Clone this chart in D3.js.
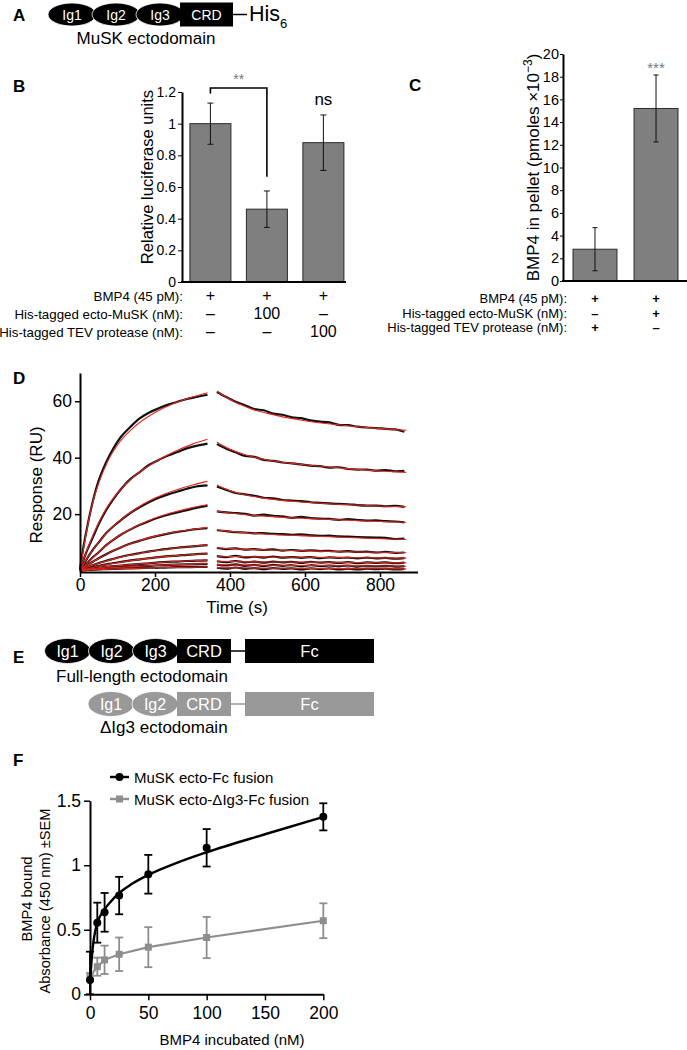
<!DOCTYPE html>
<html><head><meta charset="utf-8">
<script src="https://cdn.jsdelivr.net/npm/d3@7"></script>
<style>
body{margin:0;background:#fff;}
svg{display:block;}
</style></head><body>
<svg id="fig" width="687" height="1050"></svg>
<script>
// ================= DATA =================
// Panel A
const aDomains = ["Ig1", "Ig2", "Ig3"];
const aCRD = "CRD";
const aTag = "His";
const aTagSub = "6";
const aName = "MuSK ectodomain";

// Panel B
const bCategories = ["BMP4", "BMP4 + ecto-MuSK", "BMP4 + TEV"];
const bValues = [1.0, 0.46, 0.88];
const bErrors = [0.13, 0.115, 0.175];
const bTicks = [0, 0.2, 0.4, 0.6, 0.8, 1, 1.2];
const bRowLabels = ["BMP4 (45 pM):", "His-tagged ecto-MuSK (nM):", "His-tagged TEV protease (nM):"];
const bRowValues = [["+", "+", "+"], ["–", "100", "–"], ["–", "–", "100"]];
const bYLabel = "Relative luciferase units";
const bSigPair = [0, 1];
const bSigText = "**";
const bNsText = "ns";

// Panel C
const cCategories = ["TEV", "ecto-MuSK"];
const cValues = [2.8, 15.2];
const cErrors = [1.9, 2.95];
const cTicks = [0, 2, 4, 6, 8, 10, 12, 14, 16, 18, 20];
const cRowLabels = ["BMP4 (45 pM):", "His-tagged ecto-MuSK (nM):", "His-tagged TEV protease (nM):"];
const cRowValues = [["+", "+"], ["–", "+"], ["+", "–"]];
const cSigText = "***";

// Panel D (SPR sensorgrams: black = data, red = fit)
const dXTicks = [0, 200, 400, 600, 800];
const dYTicks = [20, 40, 60];
const dDataAssocT = [0, 10, 20, 35, 50, 70, 90, 110, 135, 160, 185, 210, 235, 260, 285, 310, 340];
const dDataDissocT = [365, 390, 415, 440, 465, 490, 515, 540, 565, 590, 615, 640, 665, 690, 715, 740, 765, 790, 815, 840, 865];
const dFitAssocT = [0, 15, 30, 50, 75, 100, 150, 200, 250, 300, 340];
const dFitDissocT = [365, 400, 450, 500, 600, 700, 800, 870];

const dDataAssoc = [
  [0.5, 9, 16, 25, 32, 38.5, 43.5, 47.5, 51, 54, 56, 57.5, 58.8, 59.8, 60.8, 61.5, 62.3],
  [0.3, 4, 7.5, 12, 16.5, 21.5, 25.5, 29, 32.5, 35, 37.5, 39.2, 40.8, 42, 43.3, 44.2, 45],
  [0.2, 2.2, 4.5, 7.5, 10, 13.3, 15.8, 18, 20.5, 22.5, 24.3, 25.8, 27, 28, 29, 29.8, 30.2],
  [0.3, 1.5, 2.8, 4.8, 6.5, 9, 11, 12.8, 14.6, 16.2, 17.6, 18.8, 19.8, 20.6, 21.4, 22.2, 23],
  [0.2, 1, 2, 3.2, 4.4, 5.8, 7.1, 8.3, 9.6, 10.6, 11.6, 12.4, 13.1, 13.7, 14.2, 14.7, 15],
  [0.2, 0.7, 1.2, 2, 2.7, 3.5, 4.2, 4.9, 5.6, 6.2, 6.8, 7.3, 7.7, 8.1, 8.4, 8.7, 9],
  [0.1, 0.4, 0.8, 1.3, 1.7, 2.2, 2.7, 3.1, 3.6, 4, 4.4, 4.8, 5.1, 5.3, 5.6, 5.8, 6],
  [0.1, 0.3, 0.5, 0.8, 1, 1.3, 1.6, 1.8, 2.1, 2.4, 2.6, 2.9, 3.1, 3.2, 3.4, 3.5, 3.6],
  [0, 0.2, 0.3, 0.5, 0.7, 0.9, 1, 1.2, 1.4, 1.6, 1.7, 1.9, 2, 2.1, 2.2, 2.3, 2.4],
  [0, 0.1, 0.2, 0.3, 0.4, 0.5, 0.6, 0.7, 0.8, 0.9, 1, 1, 1.1, 1.2, 1.2, 1.3, 1.3]
];
const dDataDissoc = [
  [63.3, 61.5, 59.8, 58.6, 57.2, 56.8, 55.6, 55.2, 54.3, 54.0, 53.2, 52.8, 52.5, 51.6, 51.5, 51.0, 50.7, 50.5, 50.2, 50.0, 49.2],
  [44.8, 43.2, 41.9, 40.6, 40.3, 39.2, 38.9, 38.3, 38.0, 37.6, 37.2, 37.0, 36.5, 36.6, 36.0, 35.8, 35.8, 35.4, 35.6, 35.2, 35.3],
  [29.8, 28.6, 27.5, 27.0, 26.5, 25.8, 25.6, 25.0, 24.8, 24.6, 24.2, 24.0, 23.8, 23.6, 23.5, 23.2, 23.0, 23.0, 22.8, 22.9, 22.6],
  [21.0, 20.6, 20.4, 20.1, 19.5, 19.8, 19.4, 19.2, 18.7, 19.0, 18.6, 18.4, 18.3, 18.0, 18.2, 17.9, 17.7, 17.8, 17.5, 17.4, 17.1],
  [14.3, 14.0, 13.6, 13.5, 13.2, 13.3, 13.0, 12.9, 12.7, 12.8, 12.5, 12.3, 12.4, 12.1, 12.0, 11.9, 11.8, 11.7, 11.6, 11.2, 11.3],
  [8.0, 7.6, 7.9, 7.4, 7.6, 7.3, 7.5, 7.1, 7.3, 7.0, 7.2, 6.9, 7.0, 6.7, 6.9, 6.6, 6.7, 6.4, 6.6, 6.3, 6.4],
  [5.1, 4.8, 5.2, 4.7, 4.9, 4.6, 5.0, 4.6, 4.8, 4.5, 4.8, 4.4, 4.7, 4.5, 4.6, 4.3, 4.6, 4.3, 4.5, 4.2, 4.4],
  [3.3, 3.0, 3.4, 2.9, 3.2, 2.8, 3.2, 2.9, 3.1, 2.7, 3.1, 2.8, 3.0, 2.7, 3.0, 2.6, 2.9, 2.7, 2.9, 2.6, 2.8],
  [2.1, 1.8, 2.2, 1.7, 2.0, 1.6, 2.0, 1.7, 1.9, 1.5, 1.9, 1.6, 1.8, 1.5, 1.8, 1.4, 1.7, 1.5, 1.7, 1.4, 1.6],
  [1.0, 0.7, 1.1, 0.6, 0.9, 0.5, 0.9, 0.6, 0.8, 0.4, 0.8, 0.5, 0.8, 0.4, 0.7, 0.4, 0.7, 0.5, 0.7, 0.4, 0.6]
];
const dFitAssoc = [
  [0, 12, 22, 31, 39, 44.5, 51.5, 56, 59.2, 61.5, 63],
  [0, 6, 11, 17, 23, 27.5, 34, 38.5, 42, 44.8, 46.5],
  [0, 3.5, 6.5, 10, 14, 17, 22, 25.7, 28.3, 30.3, 31.6],
  [0, 2, 4, 6.5, 9.5, 12, 15.7, 18.6, 20.7, 22.3, 23.3],
  [0, 1.5, 2.8, 4.3, 6.1, 7.7, 10.2, 12.2, 13.6, 14.6, 15.3],
  [0, 0.9, 1.7, 2.6, 3.6, 4.5, 5.9, 7, 7.9, 8.6, 9.1],
  [0, 0.5, 1, 1.6, 2.2, 2.8, 3.8, 4.6, 5.2, 5.7, 6],
  [0, 0.3, 0.6, 1, 1.4, 1.7, 2.3, 2.8, 3.2, 3.5, 3.7],
  [0, 0.2, 0.4, 0.6, 0.9, 1.1, 1.5, 1.8, 2.1, 2.3, 2.5],
  [0, 0.1, 0.2, 0.3, 0.5, 0.6, 0.8, 1, 1.1, 1.2, 1.3]
];
const dFitDissoc = [
  [63.6, 60.6, 57.6, 55.7, 53.1, 51.5, 50.3, 49.7],
  [45.5, 43, 40.7, 39.2, 37.5, 36.3, 35.3, 34.8],
  [30.3, 28.3, 26.6, 25.5, 24.2, 23.4, 22.9, 22.6],
  [21, 20.4, 19.7, 19.2, 18.5, 17.9, 17.4, 17.1],
  [14.4, 13.9, 13.3, 12.9, 12.3, 11.8, 11.3, 11],
  [8, 7.8, 7.5, 7.3, 7, 6.7, 6.5, 6.3],
  [5.1, 5, 4.9, 4.8, 4.7, 4.6, 4.5, 4.4],
  [3.3, 3.2, 3.1, 3.05, 3, 2.9, 2.8, 2.75],
  [2.1, 2, 1.95, 1.9, 1.8, 1.7, 1.6, 1.55],
  [1, 0.95, 0.9, 0.85, 0.8, 0.7, 0.65, 0.6]
];

// Panel E
const eFullDomains = ["Ig1", "Ig2", "Ig3"];
const eDelDomains = ["Ig1", "Ig2"];
const eCRD = "CRD";
const eFc = "Fc";
const eFullName = "Full-length ectodomain";
const eDelName = "ΔIg3 ectodomain";

// Panel F
const fConc = [0, 6.25, 12.5, 25, 50, 100, 200];
const fFullMean = [0.11, 0.555, 0.635, 0.765, 0.93, 1.135, 1.375];
const fFullSem = [0.22, 0.155, 0.15, 0.145, 0.15, 0.145, 0.105];
const fDelMean = [0.135, 0.214, 0.267, 0.31, 0.365, 0.44, 0.57];
const fDelSem = [0.03, 0.07, 0.11, 0.13, 0.155, 0.16, 0.135];
const fFullFitX = [0, 1, 2, 3, 4.5, 6.25, 9, 12.5, 18, 25, 35, 50, 75, 100, 150, 200];
const fFullFitY = [0.08, 0.22, 0.33, 0.41, 0.49, 0.555, 0.61, 0.66, 0.72, 0.785, 0.85, 0.925, 1.02, 1.1, 1.24, 1.375];
const fXTicks = [0, 50, 100, 150, 200];
const fYTicks = [0, 0.5, 1, 1.5];
const fSeriesNames = ["MuSK ecto-Fc fusion", "MuSK ecto-ΔIg3-Fc fusion"];

// ================= DRAWING =================
const FONT = '"Liberation Sans", Arial, Helvetica, sans-serif';
const svg = d3.select("#fig").attr("font-family", FONT);
const GREY = "#8e8e8e";
const BAR = "#7f7f7f";
const RED = "#e3241c";

function styleAxis(g, fs, dw, tw) {
  g.attr("font-family", FONT).attr("font-size", fs);
  g.select(".domain").attr("stroke", "#000").attr("stroke-width", dw);
  g.selectAll(".tick line").attr("stroke", "#000").attr("stroke-width", tw);
  g.selectAll(".tick text").attr("fill", "#000");
}
function label(t, x, y) {
  svg.append("text").attr("x", x).attr("y", y).attr("font-weight", "bold")
    .attr("font-size", 17).text(t);
}

// ---------- Panel A ----------
label("A", 13, 21);
{
  const g = svg.append("g");
  const cy = 14.5;
  aDomains.forEach((d, i) => {
    const cx = 72 + i * 44;
    g.append("ellipse").attr("cx", cx).attr("cy", cy).attr("rx", 24).attr("ry", 11.5)
      .attr("fill", "#000").attr("stroke", "#fff").attr("stroke-width", 0.8);
    g.append("text").attr("x", cx).attr("y", cy + 5).attr("text-anchor", "middle")
      .attr("fill", "#fff").attr("font-size", 14).text(d);
  });
  g.append("rect").attr("x", 180).attr("y", 2.5).attr("width", 53).attr("height", 24).attr("fill", "#000");
  g.append("text").attr("x", 206.5).attr("y", cy + 5).attr("text-anchor", "middle")
    .attr("fill", "#fff").attr("font-size", 14).text(aCRD);
  g.append("line").attr("x1", 233).attr("x2", 247).attr("y1", cy).attr("y2", cy)
    .attr("stroke", "#000").attr("stroke-width", 1.5);
  const t = g.append("text").attr("x", 249).attr("y", 21).attr("font-size", 21.5);
  t.append("tspan").text(aTag);
  t.append("tspan").attr("font-size", 13).attr("dy", 7).text(aTagSub);
  g.append("text").attr("x", 146).attr("y", 44).attr("text-anchor", "middle")
    .attr("font-size", 17).text(aName);
}

// ---------- Panel B ----------
label("B", 13, 92);
{
  const x = d3.scaleBand().domain(bCategories).range([182, 351.8]).paddingInner(0.274).paddingOuter(0.14);
  const y = d3.scaleLinear().domain([0, 1.2]).range([282, 92]);
  const g = svg.append("g");
  g.selectAll("rect.bar").data(bValues).join("rect").attr("class", "bar")
    .attr("x", (d, i) => x(bCategories[i])).attr("width", x.bandwidth())
    .attr("y", d => y(d)).attr("height", d => y(0) - y(d))
    .attr("fill", BAR).attr("stroke", "#2a2a2a").attr("stroke-width", 1);
  bValues.forEach((v, i) => {
    const cx = x(bCategories[i]) + x.bandwidth() / 2;
    const e = bErrors[i];
    g.append("line").attr("x1", cx).attr("x2", cx).attr("y1", y(v - e)).attr("y2", y(v + e)).attr("stroke", "#111").attr("stroke-width", 1);
    [v - e, v + e].forEach(b => g.append("line").attr("x1", cx - 3).attr("x2", cx + 3).attr("y1", y(b)).attr("y2", y(b)).attr("stroke", "#111").attr("stroke-width", 1));
  });
  const ya = g.append("g").attr("transform", "translate(182,0)")
    .call(d3.axisLeft(y).tickValues(bTicks).tickSize(4).tickSizeOuter(0).tickPadding(2).tickFormat(d3.format("~g")));
  styleAxis(ya, 14, 2, 1);
  g.append("line").attr("x1", 181).attr("x2", 346).attr("y1", 282).attr("y2", 282).attr("stroke", "#000").attr("stroke-width", 2);
  g.append("text").attr("transform", "translate(153,177) rotate(-90)").attr("text-anchor", "middle")
    .attr("font-size", 16.5).text(bYLabel);
  // significance bracket
  const c0 = x(bCategories[bSigPair[0]]) + x.bandwidth() / 2;
  const c1 = x(bCategories[bSigPair[1]]) + x.bandwidth() / 2;
  g.append("path").attr("d", `M${c0},${y(1.19)}V${y(1.225)}H${c1}V${y(0.665)}`)
    .attr("fill", "none").attr("stroke", "#000").attr("stroke-width", 1.6);
  g.append("text").attr("x", (c0 + c1) / 2).attr("y", 84).attr("text-anchor", "middle")
    .attr("font-size", 14).attr("fill", "#777").text(bSigText);
  g.append("text").attr("x", x(bCategories[2]) + x.bandwidth() / 2).attr("y", 105).attr("text-anchor", "middle")
    .attr("font-size", 17).text(bNsText);
  const rowY = [301, 319, 337];
  bRowLabels.forEach((l, r) => {
    g.append("text").attr("x", 183).attr("y", rowY[r]).attr("text-anchor", "end").attr("font-size", 13.3).text(l);
    bRowValues[r].forEach((v, i) => {
      g.append("text").attr("x", x(bCategories[i]) + x.bandwidth() / 2).attr("y", rowY[r])
        .attr("text-anchor", "middle").attr("font-size", 16).text(v);
    });
  });
}

// ---------- Panel C ----------
label("C", 409, 91);
{
  const x = d3.scaleBand().domain(cCategories).range([563, 688]).paddingInner(0.28).paddingOuter(0.164);
  const y = d3.scaleLinear().domain([0, 20]).range([281, 54]);
  const g = svg.append("g");
  g.selectAll("rect.bar").data(cValues).join("rect").attr("class", "bar")
    .attr("x", (d, i) => x(cCategories[i])).attr("width", x.bandwidth())
    .attr("y", d => y(d)).attr("height", d => y(0) - y(d))
    .attr("fill", BAR).attr("stroke", "#2a2a2a").attr("stroke-width", 1);
  cValues.forEach((v, i) => {
    const cx = x(cCategories[i]) + x.bandwidth() / 2;
    const e = cErrors[i];
    g.append("line").attr("x1", cx).attr("x2", cx).attr("y1", y(v - e)).attr("y2", y(v + e)).attr("stroke", "#111").attr("stroke-width", 1);
    [v - e, v + e].forEach(b => g.append("line").attr("x1", cx - 2.5).attr("x2", cx + 2.5).attr("y1", y(b)).attr("y2", y(b)).attr("stroke", "#111").attr("stroke-width", 1));
  });
  const ya = g.append("g").attr("transform", "translate(563,0)")
    .call(d3.axisLeft(y).tickValues(cTicks).tickSize(3).tickSizeOuter(0).tickPadding(1));
  styleAxis(ya, 14.5, 2, 1);
  g.append("line").attr("x1", 562).attr("x2", 687).attr("y1", 281).attr("y2", 281).attr("stroke", "#000").attr("stroke-width", 2);
  const t = g.append("text").attr("transform", "translate(539,167.5) rotate(-90)").attr("text-anchor", "middle").attr("font-size", 17);
  t.append("tspan").text("BMP4 in pellet (pmoles ×10");
  t.append("tspan").attr("font-size", 12).attr("dy", -7).text("−3");
  t.append("tspan").attr("dy", 7).text(")");
  g.append("text").attr("x", x(cCategories[1]) + x.bandwidth() / 2).attr("y", 73).attr("text-anchor", "middle")
    .attr("font-size", 15).attr("fill", "#777").text(cSigText);
  const rowY = [303, 317.5, 332];
  cRowLabels.forEach((l, r) => {
    g.append("text").attr("x", 567).attr("y", rowY[r]).attr("text-anchor", "end").attr("font-size", 13).text(l);
    cRowValues[r].forEach((v, i) => {
      g.append("text").attr("x", x(cCategories[i]) + x.bandwidth() / 2).attr("y", rowY[r])
        .attr("text-anchor", "middle").attr("font-size", 13).attr("font-weight", "bold").text(v);
    });
  });
}

// ---------- Panel D ----------
label("D", 13, 384);
{
  const x = d3.scaleLinear().domain([0, 900]).range([80, 417.5]);
  const y = d3.scaleLinear().domain([-0.5, 70]).range([572, 373]);
  const g = svg.append("g");
  const line = d3.line().x(d => x(d[0])).y(d => y(d[1])).curve(d3.curveCatmullRom);
  const fitLine = d3.line().x(d => x(d[0])).y(d => y(d[1])).curve(d3.curveMonotoneX);
  dDataAssoc.forEach((arr, i) => {
    g.append("path").attr("d", line(d3.zip(dDataAssocT, arr))).attr("fill", "none").attr("stroke", "#111").attr("stroke-width", 2.2);
    g.append("path").attr("d", line(d3.zip(dDataDissocT, dDataDissoc[i]))).attr("fill", "none").attr("stroke", "#111").attr("stroke-width", 2.2);
  });
  dFitAssoc.forEach((arr, i) => {
    g.append("path").attr("d", fitLine(d3.zip(dFitAssocT, arr))).attr("fill", "none").attr("stroke", RED).attr("stroke-width", 1.1);
    g.append("path").attr("d", fitLine(d3.zip(dFitDissocT, dFitDissoc[i]))).attr("fill", "none").attr("stroke", RED).attr("stroke-width", 1.1);
  });
  const ya = g.append("g").attr("transform", "translate(80,0)")
    .call(d3.axisLeft(y).tickValues(dYTicks).tickSize(5).tickSizeOuter(0).tickPadding(3));
  styleAxis(ya, 17.5, 2, 1.5);
  const xa = g.append("g").attr("transform", "translate(0,572)")
    .call(d3.axisBottom(x).tickValues(dXTicks).tickSize(5).tickSizeOuter(0).tickPadding(2));
  styleAxis(xa, 17.5, 2, 1.5);
  g.append("text").attr("transform", "translate(42,485) rotate(-90)").attr("text-anchor", "middle")
    .attr("font-size", 17).text("Response (RU)");
  g.append("text").attr("x", 237).attr("y", 613).attr("text-anchor", "middle")
    .attr("font-size", 17).text("Time (s)");
}

// ---------- Panel E ----------
label("E", 13, 663);
{
  const g = svg.append("g");
  function construct(domains, startCx, cy, color, name, nameX, nameY) {
    domains.forEach((d, i) => {
      const cx = startCx + i * 44;
      g.append("ellipse").attr("cx", cx).attr("cy", cy).attr("rx", 23).attr("ry", 12.5)
        .attr("fill", color).attr("stroke", "#fff").attr("stroke-width", 0.8);
      g.append("text").attr("x", cx).attr("y", cy + 6).attr("text-anchor", "middle")
        .attr("fill", "#fff").attr("font-size", 16).text(d);
    });
    g.append("rect").attr("x", 177).attr("y", cy - 12).attr("width", 54).attr("height", 24).attr("fill", color);
    g.append("text").attr("x", 204).attr("y", cy + 6).attr("text-anchor", "middle")
      .attr("fill", "#fff").attr("font-size", 16.5).text(eCRD);
    g.append("line").attr("x1", 231).attr("x2", 245).attr("y1", cy).attr("y2", cy)
      .attr("stroke", color).attr("stroke-width", 1.5);
    g.append("rect").attr("x", 245).attr("y", cy - 12).attr("width", 129).attr("height", 24).attr("fill", color);
    g.append("text").attr("x", 309.5).attr("y", cy + 6).attr("text-anchor", "middle")
      .attr("fill", "#fff").attr("font-size", 16.5).text(eFc);
    g.append("text").attr("x", nameX).attr("y", nameY).attr("font-size", 17).text(name);
  }
  construct(eFullDomains, 67.5, 651, "#000", eFullName, 56, 682);
  construct(eDelDomains, 111, 704, "#999", eDelName, 100, 733);
}

// ---------- Panel F ----------
label("F", 13, 766);
{
  const x = d3.scaleLinear().domain([0, 200]).range([90, 323.3]);
  const y = d3.scaleLinear().domain([0, 1.5]).range([994.3, 800.7]);
  const g = svg.append("g");
  // grey series
  g.append("path").attr("d", d3.line().x((d, i) => x(fConc[i])).y(d => y(d))(fDelMean))
    .attr("fill", "none").attr("stroke", GREY).attr("stroke-width", 2.2);
  fDelMean.forEach((m, i) => {
    const cx = x(fConc[i]), e = fDelSem[i];
    const lo = Math.max(0, m - e);
    g.append("line").attr("x1", cx).attr("x2", cx).attr("y1", y(lo)).attr("y2", y(m + e)).attr("stroke", GREY).attr("stroke-width", 1.8);
    [lo, m + e].forEach(b => g.append("line").attr("x1", cx - 4).attr("x2", cx + 4).attr("y1", y(b)).attr("y2", y(b)).attr("stroke", GREY).attr("stroke-width", 1.8));
    g.append("rect").attr("x", cx - 3.5).attr("y", y(m) - 3.5).attr("width", 7).attr("height", 7).attr("fill", GREY);
  });
  // black series
  g.append("path").attr("d", d3.line().x((d, i) => x(fFullFitX[i])).y(d => y(d)).curve(d3.curveMonotoneX)(fFullFitY))
    .attr("fill", "none").attr("stroke", "#000").attr("stroke-width", 2.4);
  fFullMean.forEach((m, i) => {
    const cx = x(fConc[i]), e = fFullSem[i];
    const lo = Math.max(0, m - e);
    g.append("line").attr("x1", cx).attr("x2", cx).attr("y1", y(lo)).attr("y2", y(m + e)).attr("stroke", "#000").attr("stroke-width", 1.8);
    [lo, m + e].forEach(b => g.append("line").attr("x1", cx - 4).attr("x2", cx + 4).attr("y1", y(b)).attr("y2", y(b)).attr("stroke", "#000").attr("stroke-width", 1.8));
    g.append("circle").attr("cx", cx).attr("cy", y(m)).attr("r", 4).attr("fill", "#000");
  });
  const ya = g.append("g").attr("transform", "translate(90,0)")
    .call(d3.axisLeft(y).tickValues(fYTicks).tickSize(6).tickSizeOuter(0).tickPadding(3).tickFormat(d3.format("~g")));
  styleAxis(ya, 17.5, 2, 1.5);
  const xa = g.append("g").attr("transform", "translate(0,994.3)")
    .call(d3.axisBottom(x).tickValues(fXTicks).tickSize(6).tickSizeOuter(0).tickPadding(6));
  styleAxis(xa, 17.5, 2, 1.5);
  g.append("text").attr("transform", "translate(32,899) rotate(-90)").attr("text-anchor", "middle")
    .attr("font-size", 14.7).text("BMP4 bound");
  g.append("text").attr("transform", "translate(50,901) rotate(-90)").attr("text-anchor", "middle")
    .attr("font-size", 14.7).text("Absorbance (450 nm) ±SEM");
  g.append("text").attr("x", 232).attr("y", 1045).attr("text-anchor", "middle")
    .attr("font-size", 15).text("BMP4 incubated (nM)");
  // legend
  const ly = [777, 799];
  g.append("line").attr("x1", 110).attr("x2", 129).attr("y1", ly[0]).attr("y2", ly[0]).attr("stroke", "#000").attr("stroke-width", 2.4);
  g.append("circle").attr("cx", 119.5).attr("cy", ly[0]).attr("r", 4).attr("fill", "#000");
  g.append("line").attr("x1", 110).attr("x2", 129).attr("y1", ly[1]).attr("y2", ly[1]).attr("stroke", GREY).attr("stroke-width", 2.4);
  g.append("rect").attr("x", 116).attr("y", ly[1] - 3.5).attr("width", 7).attr("height", 7).attr("fill", GREY);
  fSeriesNames.forEach((n, i) => g.append("text").attr("x", 134).attr("y", ly[i] + 5.5).attr("font-size", 15).text(n));
}
</script>
</body></html>
